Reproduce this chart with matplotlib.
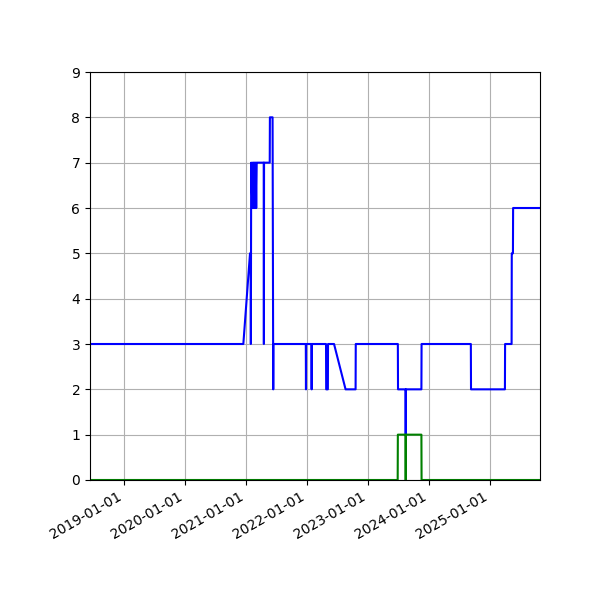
import pandas as pd
import matplotlib
matplotlib.use("Agg")
import matplotlib.pyplot as plt
import matplotlib.dates as mdates

# blue series (dates, values)
blue_dates = ["2018-06-12", "2020-12-16", "2021-01-25", "2021-01-29", "2021-01-30", "2021-01-31",
              "2021-02-01", "2021-02-08", "2021-02-10", "2021-02-13", "2021-02-16", "2021-02-19",
              "2021-02-22", "2021-02-25", "2021-02-28", "2021-03-03", "2021-03-06", "2021-03-08",
              "2021-04-17", "2021-04-18", "2021-04-19", "2021-05-23", "2021-05-24", "2021-06-09",
              "2021-06-13", "2021-06-14", "2021-06-23", "2021-12-25", "2021-12-26", "2021-12-27",
              "2022-01-28", "2022-01-29", "2022-01-30", "2022-04-25", "2022-04-26", "2022-05-06",
              "2022-05-07", "2022-06-12", "2022-08-20", "2022-10-19", "2022-10-20", "2023-06-29",
              "2023-06-30", "2023-08-14", "2023-08-15", "2023-08-16", "2023-08-17", "2023-11-17",
              "2023-11-18", "2024-09-08", "2024-09-09", "2025-03-31", "2025-04-01", "2025-05-10",
              "2025-05-11", "2025-05-18", "2025-05-19", "2025-10-27"]
blue_vals = [3, 3, 5, 5, 3, 5,
             7, 6, 7, 6, 7, 6,
             7, 6, 7, 6, 7, 7,
             7, 3, 7, 7, 8, 8,
             2, 3, 3, 3, 2, 3,
             3, 2, 3, 3, 2, 2,
             3, 3, 2, 2, 3, 3,
             2, 2, 1, 2, 2, 2,
             3, 3, 2, 2, 3, 3,
             5, 5, 6, 6]

green_dates = ["2018-06-12", "2023-06-28", "2023-06-29", "2023-08-14", "2023-08-15", "2023-08-16",
               "2023-11-17", "2023-11-18", "2025-10-27"]
green_vals = [0, 0, 1, 1, 0, 1, 1, 0, 0]

fig, ax = plt.subplots(figsize=(6, 6), dpi=100)
ax.plot(pd.to_datetime(blue_dates), blue_vals, color='b')
ax.plot(pd.to_datetime(green_dates), green_vals, color='g')
ax.set_ylim(0, 9)
ax.set_xlim(pd.Timestamp("2018-06-12"), pd.Timestamp("2025-10-27"))
ax.xaxis.set_major_locator(mdates.YearLocator())
ax.xaxis.set_major_formatter(mdates.DateFormatter('%Y-%m-%d'))
ax.grid(True)
fig.autofmt_xdate()
fig.subplots_adjust(left=0.15, right=0.9, top=0.88, bottom=0.2)
fig.savefig("out.png")
